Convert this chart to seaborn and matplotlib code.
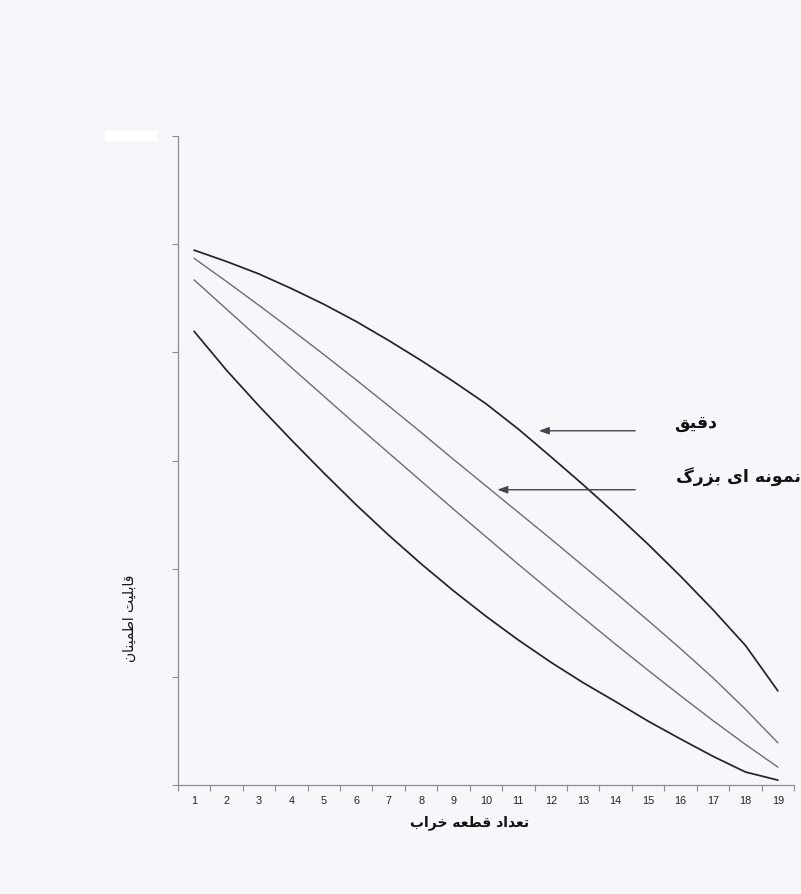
import numpy as np
import pandas as pd
import matplotlib
matplotlib.use("Agg")
import matplotlib.pyplot as plt
import seaborn as sns
from matplotlib.patches import Rectangle

# ---- data -------------------------------------------------------------
defects = list(range(1, 20))
exact = [0.989, 0.968, 0.945, 0.918, 0.889, 0.857, 0.822, 0.785, 0.746, 0.705,
         0.658, 0.607, 0.555, 0.501, 0.445, 0.386, 0.324, 0.258, 0.174]
large_sample = [0.974, 0.931, 0.887, 0.842, 0.796, 0.749, 0.701, 0.652, 0.602, 0.553,
                0.504, 0.455, 0.405, 0.355, 0.304, 0.252, 0.198, 0.140, 0.078]
approx_c = [0.934, 0.880, 0.826, 0.772, 0.719, 0.666, 0.614, 0.562, 0.510, 0.459,
            0.408, 0.358, 0.309, 0.260, 0.212, 0.165, 0.119, 0.075, 0.033]
approx_d = [0.839, 0.767, 0.701, 0.638, 0.577, 0.518, 0.462, 0.409, 0.359, 0.312,
            0.268, 0.227, 0.189, 0.154, 0.118, 0.085, 0.053, 0.024, 0.009]

y_ticks = [0.0, 0.2, 0.4, 0.6, 0.8, 1.0, 1.2]

label_exact = "دقیق"
label_large = "نمونه ای بزرگ"
x_title = "تعداد قطعه خراب"
y_title = "قابلیت اطمینان"

# ---- minimal Persian shaping (matplotlib has no contextual shaping) -----
FORMS = {
    "ا": ("\uFE8D", "\uFE8E", None, None),
    "ب": ("\uFE8F", "\uFE90", "\uFE91", "\uFE92"),
    "ت": ("\uFE95", "\uFE96", "\uFE97", "\uFE98"),
    "خ": ("\uFEA5", "\uFEA6", "\uFEA7", "\uFEA8"),
    "د": ("\uFEA9", "\uFEAA", None, None),
    "ر": ("\uFEAD", "\uFEAE", None, None),
    "ز": ("\uFEAF", "\uFEB0", None, None),
    "ط": ("\uFEC1", "\uFEC2", "\uFEC3", "\uFEC4"),
    "ع": ("\uFEC9", "\uFECA", "\uFECB", "\uFECC"),
    "ق": ("\uFED5", "\uFED6", "\uFED7", "\uFED8"),
    "ل": ("\uFEDD", "\uFEDE", "\uFEDF", "\uFEE0"),
    "م": ("\uFEE1", "\uFEE2", "\uFEE3", "\uFEE4"),
    "ن": ("\uFEE5", "\uFEE6", "\uFEE7", "\uFEE8"),
    "ه": ("\uFEE9", "\uFEEA", "\uFEEB", "\uFEEC"),
    "و": ("\uFEED", "\uFEEE", None, None),
    "\u06CC": ("\uFBFC", "\uFBFD", "\uFBFE", "\uFBFF"),
    "\u06AF": ("\uFB92", "\uFB93", "\uFB94", "\uFB95"),
}


def shape(text):
    text = text.replace("\u064A", "\u06CC").replace("\u0643", "\u06A9")
    out = []
    for i, ch in enumerate(text):
        if ch not in FORMS:
            out.append(ch)
            continue
        prev = text[i - 1] if i > 0 else ""
        nxt = text[i + 1] if i + 1 < len(text) else ""
        joins_prev = prev in FORMS and FORMS[prev][2] is not None
        joins_next = FORMS[ch][2] is not None and nxt in FORMS
        iso, fin, ini, med = FORMS[ch]
        if joins_prev and joins_next:
            out.append(med)
        elif joins_prev:
            out.append(fin)
        elif joins_next:
            out.append(ini)
        else:
            out.append(iso)
    return "".join(out)[::-1]


# ---- figure -----------------------------------------------------------
sns.set_theme(style="ticks")
plt.rcParams["font.family"] = ["DejaVu Sans"]

bg = "#f6f7fb"
fig = plt.figure(figsize=(8.01, 8.95), dpi=100, facecolor=bg)
ax = fig.add_axes([0.222, 0.1218, 0.7694, 0.7251])
ax.set_facecolor(bg)

df = pd.DataFrame({
    "defects": defects * 4,
    "reliability": exact + large_sample + approx_c + approx_d,
    "series": (["exact"] * 19 + ["large_sample"] * 19
               + ["approx_c"] * 19 + ["approx_d"] * 19),
})

styles = {
    "exact": ("#23232c", 1.25),
    "large_sample": ("#6c6c74", 1.0),
    "approx_c": ("#6c6c74", 1.0),
    "approx_d": ("#23232c", 1.25),
}
for name, (color, lw) in styles.items():
    sns.lineplot(data=df[df["series"] == name], x="defects", y="reliability",
                 color=color, linewidth=lw, ax=ax, legend=False)

ax.set_xlim(0.5, 19.5)
ax.set_ylim(0, 1.2)

axis_col = "#8c8c94"
for side in ("top", "right"):
    ax.spines[side].set_visible(False)
for side in ("left", "bottom"):
    ax.spines[side].set_color(axis_col)
    ax.spines[side].set_linewidth(0.9)

ax.set_xticks(defects)
ax.set_xticklabels([str(d) for d in defects], family="Liberation Sans",
                   fontsize=7.8, color="#222222")
ax.set_xticks(np.arange(0.5, 20.0, 1.0), minor=True)
ax.tick_params(axis="x", which="major", length=0, pad=7)
ax.tick_params(axis="x", which="minor", length=4, width=0.8, color=axis_col,
               direction="out")

ax.set_yticks(y_ticks)
ax.set_yticklabels([])
ax.tick_params(axis="y", which="major", length=4, width=0.8, color=axis_col,
               direction="out")

ax.set_xlabel(shape(x_title), fontsize=10, fontweight="bold", color="#111111")
ax.xaxis.set_label_coords(0.474, -0.056)
ax.xaxis.label.set_va("center")

ax.set_ylabel(shape(y_title), fontsize=10, color="#111111")
ax.yaxis.set_label_coords(-0.078, 0.259)
ax.yaxis.label.set_va("center")

# ---- arrows and labels pointing at the curves ---------------------------
arrow_style = dict(arrowstyle="-|>,head_length=0.6,head_width=0.22",
                   color="#45454d", lw=1.0, shrinkA=0, shrinkB=0,
                   mutation_scale=10)
ax.annotate("", xy=(11.63, 0.655), xytext=(14.6, 0.655),
            arrowprops=arrow_style)
ax.annotate("", xy=(10.35, 0.546), xytext=(14.6, 0.546),
            arrowprops=arrow_style)

ax.text(16.45, 0.671, shape(label_exact), fontsize=12.5, fontweight="bold",
        ha="center", va="center", color="#111111")
ax.text(15.86, 0.570, shape(label_large), fontsize=12.5, fontweight="bold",
        ha="left", va="center", color="#111111")

# small blank tab at the top of the vertical axis
fig.patches.append(Rectangle((105 / 801, 1 - 142 / 895), 53 / 801, 10 / 895,
                             transform=fig.transFigure, facecolor="white",
                             edgecolor="none", zorder=5))

fig.savefig("out.png", dpi=100, facecolor=bg)
